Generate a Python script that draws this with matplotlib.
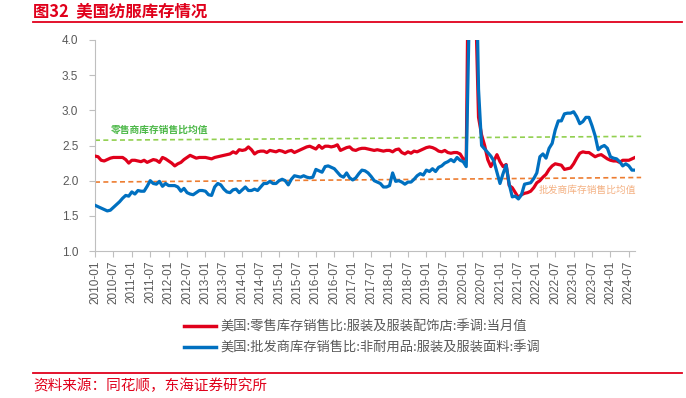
import matplotlib
matplotlib.use('Agg')
import matplotlib.pyplot as plt
from matplotlib.lines import Line2D
import numpy as np

# 美国:零售库存销售比:服装及服装配饰店 (2010-01 .. 2024-09)
retail = [
    2.35, 2.34, 2.29, 2.28, 2.30, 2.32, 2.33, 2.33, 2.33, 2.33,
    2.30, 2.25, 2.29, 2.29, 2.28, 2.27, 2.29, 2.26, 2.28, 2.30,
    2.29, 2.26, 2.33, 2.31, 2.28, 2.25, 2.21, 2.24, 2.26, 2.30,
    2.33, 2.36, 2.34, 2.32, 2.33, 2.33, 2.33, 2.32, 2.31, 2.33,
    2.34, 2.35, 2.36, 2.37, 2.38, 2.41, 2.39, 2.44, 2.43, 2.44,
    2.48, 2.44, 2.38, 2.41, 2.42, 2.42, 2.40, 2.43, 2.42, 2.41,
    2.43, 2.42, 2.40, 2.42, 2.43, 2.40, 2.42, 2.44, 2.46, 2.48,
    2.49, 2.47, 2.45, 2.50, 2.46, 2.49, 2.49, 2.48, 2.49, 2.51,
    2.43, 2.45, 2.47, 2.48, 2.44, 2.43, 2.45, 2.46, 2.46, 2.45,
    2.44, 2.43, 2.44, 2.43, 2.42, 2.43, 2.43, 2.41, 2.44, 2.45,
    2.40, 2.38, 2.41, 2.39, 2.42, 2.41, 2.43, 2.45, 2.47, 2.48,
    2.47, 2.45, 2.42, 2.41, 2.43, 2.40, 2.39, 2.40, 2.40, 2.38,
    2.31, 2.30, 6.50, 10.5, 4.60, 2.90, 2.65, 2.50, 2.30, 2.20,
    2.28, 2.37, 2.27, 2.20, 2.23, 1.93, 1.90, 1.83, 1.76, 1.80,
    1.82, 1.83, 1.85, 1.90, 1.97, 2.00, 2.05, 2.09, 2.16, 2.21,
    2.24, 2.23, 2.22, 2.16, 2.17, 2.18, 2.24, 2.32, 2.39, 2.41,
    2.40, 2.40, 2.37, 2.34, 2.36, 2.37, 2.34, 2.31, 2.29, 2.28,
    2.28, 2.26, 2.29, 2.29, 2.29, 2.31, 2.33,
]

# 美国:批发商库存销售比:非耐用品:服装及服装面料 (2010-01 .. 2024-09)
wholesale = [
    1.65, 1.63, 1.61, 1.59, 1.57, 1.58, 1.62, 1.66, 1.70, 1.75,
    1.79, 1.78, 1.84, 1.81, 1.86, 1.85, 1.85, 1.92, 2.00, 1.96,
    1.95, 1.99, 1.92, 1.96, 1.93, 1.93, 1.93, 1.91, 1.85, 1.89,
    1.83, 1.81, 1.80, 1.83, 1.86, 1.86, 1.85, 1.80, 1.79, 1.91,
    1.96, 1.94, 1.88, 1.84, 1.83, 1.87, 1.88, 1.83, 1.87, 1.91,
    1.86, 1.86, 1.88, 1.86, 1.91, 1.96, 1.96, 1.99, 1.96, 1.96,
    2.00, 2.02, 2.00, 1.94, 2.02, 2.07, 2.06, 2.05, 2.07, 2.05,
    2.04, 2.05, 2.16, 2.14, 2.12, 2.20, 2.21, 2.19, 2.17, 2.12,
    2.07, 2.05, 2.11, 2.04, 2.01, 2.04, 2.10, 2.15, 2.14, 2.11,
    2.06, 2.00, 1.98, 1.96, 1.91, 1.91, 1.93, 2.11, 1.99, 2.00,
    1.98, 1.95, 1.98, 1.98, 2.02, 2.07, 2.10, 2.08, 2.15, 2.13,
    2.17, 2.13, 2.19, 2.21, 2.25, 2.27, 2.30, 2.27, 2.33, 2.29,
    2.27, 2.20, 4.40, 7.00, 5.80, 3.30, 2.50, 2.45, 2.40, 2.35,
    2.28, 2.12, 1.96, 2.10, 2.22, 1.95, 1.77, 1.78, 1.74, 1.80,
    1.95, 1.96, 1.97, 2.03, 2.11, 2.34, 2.38, 2.32, 2.46, 2.53,
    2.72, 2.85, 2.85, 2.95, 2.96, 2.96, 2.98, 2.91, 2.81, 2.84,
    2.90, 2.90, 2.78, 2.64, 2.44, 2.48, 2.50, 2.46, 2.34, 2.32,
    2.31, 2.27, 2.21, 2.24, 2.21, 2.15, 2.15,
]

tick_labels = [
    '2010-01', '2010-07', '2011-01', '2011-07', '2012-01', '2012-07',
    '2013-01', '2013-07', '2014-01', '2014-07', '2015-01', '2015-07',
    '2016-01', '2016-07', '2017-01', '2017-07', '2018-01', '2018-07',
    '2019-01', '2019-07', '2020-01', '2020-07', '2021-01', '2021-07',
    '2022-01', '2022-07', '2023-01', '2023-07', '2024-01', '2024-07',
]

# mean reference lines (start, end values as drawn)
retail_mean = [2.575, 2.63]
wholesale_mean = [1.98, 2.045]

series_names = ['美国:零售库存销售比:服装及服装配饰店:季调:当月值',
                '美国:批发商库存销售比:非耐用品:服装及服装面料:季调']

RED = '#E0001B'
BLUE = '#0070C0'
GREEN = '#92D050'
ORANGE = '#ED7D31'
GRAY = '#595959'
AXIS = '#BFBFBF'
CJK = ['Noto Sans CJK SC', 'DejaVu Sans']

plt.rcParams['font.family'] = ['Liberation Sans', 'Noto Sans CJK SC']

W, H = 686, 398
fig = plt.figure(figsize=(W / 100, H / 100), dpi=100)
ax = fig.add_axes([95 / W, 1 - 251 / H, 540 / W, 211 / H])

x = np.arange(len(retail))
ax.plot(x, retail, color=RED, lw=2.3, solid_joinstyle='round', zorder=3)
ax.plot(x, wholesale, color=BLUE, lw=2.3, solid_joinstyle='round', zorder=4)

xe = [0, len(retail) + 1]
ax.plot(xe, retail_mean, color=GREEN, lw=1.2, ls=(0, (3, 2)), clip_on=False, zorder=2)
ax.plot(xe, wholesale_mean, color=ORANGE, lw=1.2, ls=(0, (3, 2)), clip_on=False, zorder=2)

ax.text(5.3, 2.73, '零售商库存销售比均值', color='#4CB848', fontsize=7, fontweight='bold',
        family=CJK, va='center', ha='left')
ax.text(144.6, 1.87, '批发商库存销售比均值', color='#F4B183', fontsize=7,
        family=CJK, va='center', ha='left')

ax.set_xlim(0, len(retail) - 1)
ax.set_ylim(1, 4)
ax.set_yticks(np.arange(1.0, 4.01, 0.5))
ax.set_yticklabels(['%.1f' % v for v in np.arange(1.0, 4.01, 0.5)])
ax.set_xticks(np.arange(0, len(tick_labels) * 6, 6))
ax.set_xticklabels(tick_labels, rotation=90)

for s in ['top', 'right']:
    ax.spines[s].set_visible(False)
for s in ['left', 'bottom']:
    ax.spines[s].set_color(AXIS)
    ax.spines[s].set_linewidth(0.8)
ax.tick_params(axis='both', colors=AXIS, labelcolor=GRAY, length=4, width=0.8, direction='out')
ax.tick_params(axis='y', labelsize=8.5, pad=8)
ax.tick_params(axis='x', labelsize=8.5, pad=3)

handles = [Line2D([], [], color=RED, lw=2.5), Line2D([], [], color=BLUE, lw=2.5)]
leg = fig.legend(handles, series_names, loc='upper left',
                 bbox_to_anchor=(184 / W, 1 - 320 / H), frameon=False,
                 prop={'family': CJK, 'size': 9.5}, handlelength=2.4,
                 handletextpad=0.4, labelspacing=0.65, borderpad=0, borderaxespad=0)
for t in leg.get_texts():
    t.set_color(GRAY)

# title and rules
fig.text(33 / W, 1 - 11 / H, '图32  美国纺服库存情况', color=RED, fontsize=11.8,
         fontweight='bold', family=CJK, va='center', ha='left')
fig.add_artist(Line2D([33 / W, 682 / W], [1 - 22 / H] * 2, color=RED, lw=1.3))
fig.add_artist(Line2D([33 / W, 682 / W], [1 - 373 / H] * 2, color=RED, lw=1.3))
fig.text(33 / W, 1 - 386 / H, '资料来源：同花顺，东海证券研究所', color=RED, fontsize=10.5,
         family=CJK, va='center', ha='left')

fig.savefig('out.png', dpi=100)
